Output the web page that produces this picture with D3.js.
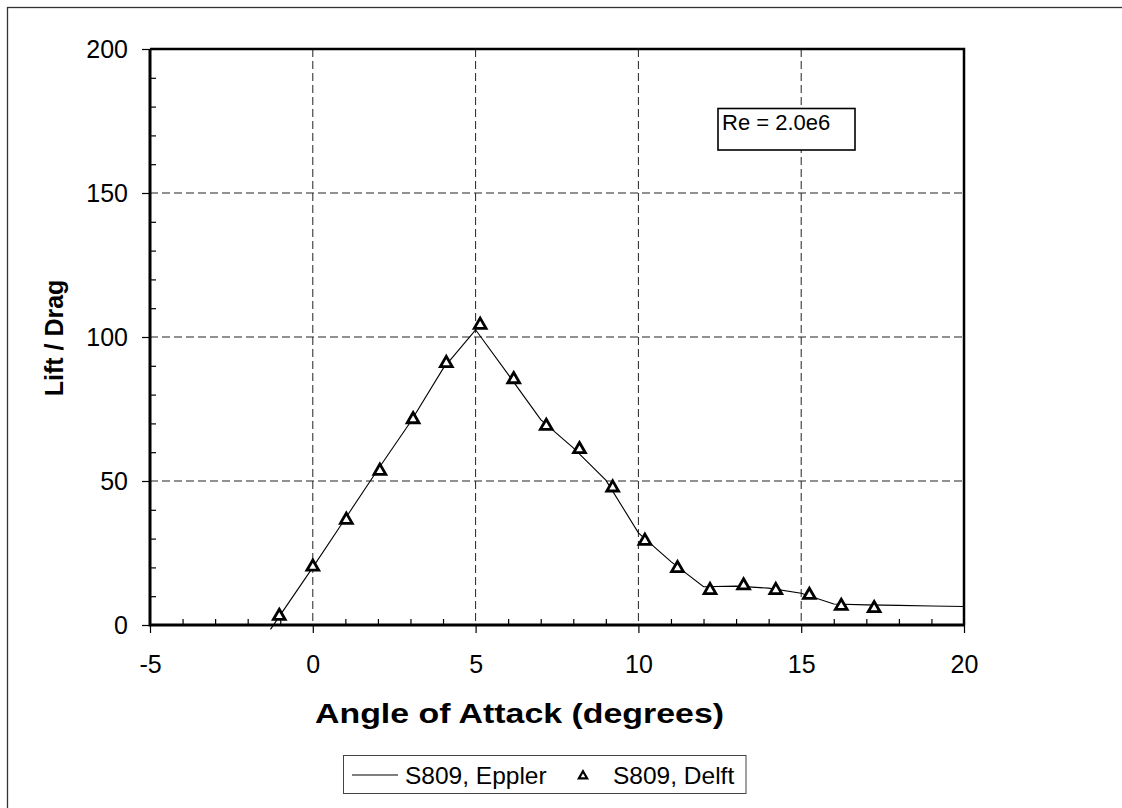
<!DOCTYPE html>
<html>
<head>
<meta charset="utf-8">
<script src="https://cdn.jsdelivr.net/npm/d3@7"></script>
<style>
  html, body { margin: 0; padding: 0; background: #fff; }
  svg { display: block; font-family: Arial, "Liberation Sans", sans-serif; }
</style>
</head>
<body>
<svg id="chart" width="1122" height="808"></svg>
<script>
// ---- data ----
const xTicks = [-5, 0, 5, 10, 15, 20];
const yTicks = [0, 50, 100, 150, 200];
const epplerAlpha = [-1.3, 0, 1, 2, 3, 4, 5, 6, 7, 8, 9, 10, 11, 12, 13, 14, 15, 16, 17, 18, 19, 20];
const epplerLD    = [-1.5, 20, 37, 54, 70.5, 89, 102.5, 87, 71.3, 61.5, 50.3, 32, 22, 13.3, 13.5, 12.8, 11, 7.3, 7.0, 6.8, 6.6, 6.4];
const delftAlpha = [-1.03, 0.0, 1.03, 2.06, 3.08, 4.1, 5.14, 6.17, 7.17, 8.19, 9.21, 10.2, 11.2, 12.2, 13.23, 14.22, 15.25, 16.23, 17.24];
const delftLD    = [3.1, 20.2, 36.5, 53.5, 71.4, 90.9, 104.2, 85.3, 69.1, 61.0, 47.7, 29.2, 19.7, 12.1, 13.7, 12.1, 10.4, 6.6, 5.8];
const seriesNames = ["S809, Eppler", "S809, Delft"];
const xTitle = "Angle of Attack (degrees)";
const yTitle = "Lift / Drag";
const noteText = "Re = 2.0e6";

// ---- layout ----
const svg = d3.select("#chart");
const L = 150, R = 964, T = 49, B = 625;
const x = d3.scaleLinear().domain([-5, 20]).range([L, R]);
const y = d3.scaleLinear().domain([0, 200]).range([B, T]);
const fmt = d => String(d); // plain hyphen for negatives

// outer frame
svg.append("rect").attr("x", 7.5).attr("y", 7.5).attr("width", 1300).attr("height", 1000)
  .attr("fill", "none").attr("stroke", "#333").attr("stroke-width", 1.3);

// grid
const g = svg.append("g");
g.selectAll("line.vg").data(xTicks.filter(d => d > -5 && d < 20)).join("line")
  .attr("x1", d => x(d)).attr("x2", d => x(d)).attr("y1", T).attr("y2", B)
  .attr("stroke", "#222").attr("stroke-width", 1).attr("stroke-dasharray", "8,4");
g.selectAll("line.hg").data(yTicks.filter(d => d > 0 && d < 200)).join("line")
  .attr("x1", L).attr("x2", R).attr("y1", d => y(d)).attr("y2", d => y(d))
  .attr("stroke", "#222").attr("stroke-width", 1).attr("stroke-dasharray", "8,4");

// minor ticks (inside)
const xMinor = d3.range(-4, 20, 1).filter(d => d % 5 !== 0);
svg.append("g").attr("transform", `translate(0,${B})`)
  .call(d3.axisBottom(x).tickValues(xMinor).tickSize(-6).tickFormat(""))
  .call(a => a.select(".domain").remove())
  .selectAll("line").attr("stroke", "#000").attr("stroke-width", 1.2);
const yMinor = d3.range(10, 200, 10).filter(d => d % 50 !== 0);
svg.append("g").attr("transform", `translate(${L},0)`)
  .call(d3.axisLeft(y).tickValues(yMinor).tickSize(-6).tickFormat(""))
  .call(a => a.select(".domain").remove())
  .selectAll("line").attr("stroke", "#000").attr("stroke-width", 1.2);

// major axes
const xAxis = svg.append("g").attr("transform", `translate(0,${B})`)
  .call(d3.axisBottom(x).tickValues(xTicks).tickSize(8).tickPadding(22).tickFormat(fmt));
xAxis.select(".domain").remove();
xAxis.selectAll("line").attr("stroke", "#000").attr("stroke-width", 1.2);
xAxis.selectAll("text").attr("font-size", 25).attr("fill", "#000")
  .attr("font-family", "Arial, 'Liberation Sans', sans-serif");

const yAxis = svg.append("g").attr("transform", `translate(${L},0)`)
  .call(d3.axisLeft(y).tickValues(yTicks).tickSize(8).tickPadding(14).tickFormat(fmt));
yAxis.select(".domain").remove();
yAxis.selectAll("line").attr("stroke", "#000").attr("stroke-width", 1.2);
yAxis.selectAll("text").attr("font-size", 25).attr("fill", "#000")
  .attr("font-family", "Arial, 'Liberation Sans', sans-serif");

// plot border
svg.append("path")
  .attr("d", `M${L},${T}H${R}V${B}`)
  .attr("fill", "none").attr("stroke", "#000").attr("stroke-width", 2.5);
svg.append("path")
  .attr("d", `M${L},${T}V${B}H${R}`)
  .attr("fill", "none").attr("stroke", "#000").attr("stroke-width", 3);

// Eppler line
const line = d3.line().x(d => x(d[0])).y(d => y(d[1]));
svg.append("path")
  .datum(epplerAlpha.map((a, i) => [a, epplerLD[i]]))
  .attr("d", line).attr("fill", "none").attr("stroke", "#000").attr("stroke-width", 1.1);

// Delft markers
const tri = d3.symbol().type(d3.symbolTriangle).size(60);
svg.append("g").selectAll("path")
  .data(delftAlpha.map((a, i) => [a, delftLD[i]]))
  .join("path")
  .attr("d", tri)
  .attr("transform", d => `translate(${x(d[0])},${y(d[1])})`)
  .attr("fill", "#fff").attr("stroke", "#000").attr("stroke-width", 2.8);

// axis titles
svg.append("text").attr("x", 519.5).attr("y", 723).attr("text-anchor", "middle")
  .attr("font-size", 27).attr("font-weight", "bold")
  .attr("textLength", 409).attr("lengthAdjust", "spacingAndGlyphs").text(xTitle);
svg.append("text").attr("transform", `translate(63,338) rotate(-90)`).attr("text-anchor", "middle")
  .attr("font-size", 25).attr("font-weight", "bold").text(yTitle);

// note box
svg.append("rect").attr("x", 718).attr("y", 108.5).attr("width", 137).attr("height", 41.5)
  .attr("fill", "#fff").attr("stroke", "#000").attr("stroke-width", 1.6);
svg.append("text").attr("x", 722).attr("y", 130).attr("font-size", 22).text(noteText);

// legend
const lg = svg.append("g");
lg.append("rect").attr("x", 343.5).attr("y", 755.5).attr("width", 402.5).attr("height", 38)
  .attr("fill", "#fff").attr("stroke", "#444").attr("stroke-width", 1);
lg.append("line").attr("x1", 352).attr("x2", 398).attr("y1", 775).attr("y2", 775)
  .attr("stroke", "#000").attr("stroke-width", 1.1);
lg.append("text").attr("x", 405).attr("y", 783.5).attr("font-size", 24.5).text(seriesNames[0]);
lg.append("path").attr("d", d3.symbol().type(d3.symbolTriangle).size(30))
  .attr("transform", "translate(583,776)")
  .attr("fill", "#fff").attr("stroke", "#000").attr("stroke-width", 2.2);
lg.append("text").attr("x", 613).attr("y", 783.5).attr("font-size", 24.5).text(seriesNames[1]);
</script>
</body>
</html>
